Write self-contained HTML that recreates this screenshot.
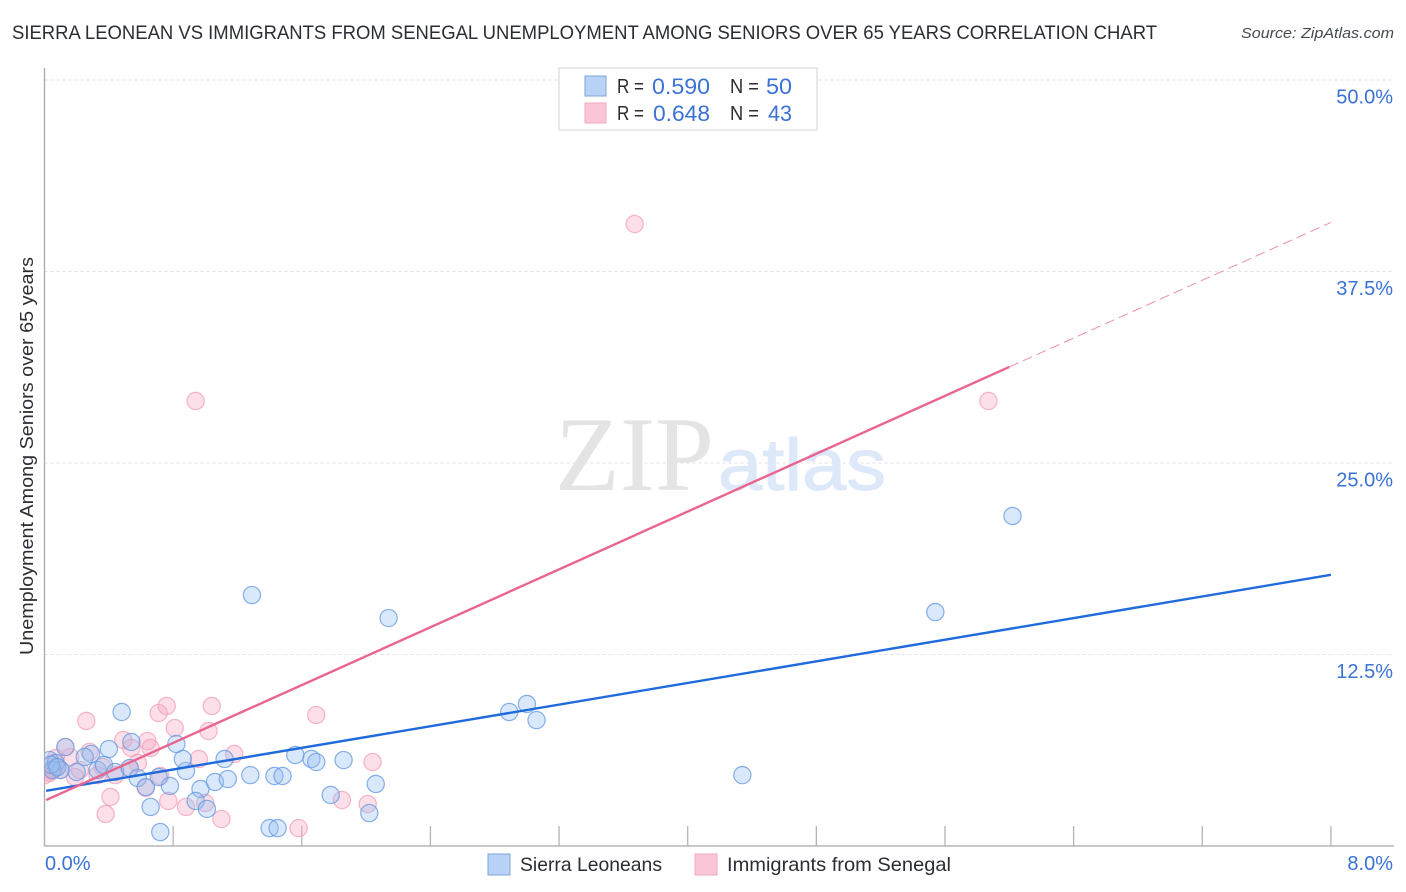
<!DOCTYPE html>
<html>
<head>
<meta charset="utf-8">
<title>Sierra Leonean vs Immigrants from Senegal Unemployment Correlation Chart</title>
<style>
html,body{margin:0;padding:0;background:#fff;}
body{width:1406px;height:892px;overflow:hidden;font-family:"Liberation Sans",sans-serif;}
svg{display:block;}
text{font-family:"Liberation Sans",sans-serif;}
</style>
</head>
<body>
<svg id="chart" xmlns="http://www.w3.org/2000/svg" width="1406" height="892" viewBox="0 0 1406 892">
  <defs>
    <clipPath id="plot-clip"><rect x="44.5" y="60" width="1350" height="786"></rect></clipPath>
  </defs>
  <text x="12" y="39" font-size="19" fill="#2a2d33" textLength="1145" lengthAdjust="spacingAndGlyphs">SIERRA LEONEAN VS IMMIGRANTS FROM SENEGAL UNEMPLOYMENT AMONG SENIORS OVER 65 YEARS CORRELATION CHART</text>
  <text x="1241" y="38" font-size="15" font-style="italic" fill="#444a52" textLength="153" lengthAdjust="spacingAndGlyphs">Source: ZipAtlas.com</text>

  <g id="grid-layer"></g>

  <g>
    <text x="555" y="490" font-size="106" fill="#e4e4e4" style="font-family:'Liberation Serif',serif" textLength="159" lengthAdjust="spacingAndGlyphs">ZIP</text>
    <text x="718" y="490" font-size="73" fill="#dde8f8" stroke="#dde8f8" stroke-width="1" textLength="168" lengthAdjust="spacingAndGlyphs">atlas</text>
  </g>

  <g id="axes-layer"></g>
  <g id="points-layer" clip-path="url(#plot-clip)"></g>
  <g id="trend-layer"></g>
  <g id="labels-layer"></g>

  <text transform="translate(33,456) rotate(-90)" font-size="18.5" fill="#2a2d33" text-anchor="middle" textLength="398" lengthAdjust="spacingAndGlyphs">Unemployment Among Seniors over 65 years</text>

  <g>
    <rect x="559" y="68" width="258" height="62" fill="#fff" stroke="#dcdcdc" stroke-width="1.2"></rect>
    <rect x="585" y="76" width="21" height="20" fill="#b9d3f6" stroke="#7fa6d8" stroke-width="1"></rect>
    <rect x="585" y="103" width="21" height="20" fill="#fac5d7" stroke="#f0aac2" stroke-width="1"></rect>
    <text x="617" y="93" font-size="20" fill="#2a2d33" textLength="27" lengthAdjust="spacingAndGlyphs">R =</text>
    <text x="652" y="94" font-size="22" fill="#3a72d6" textLength="58" lengthAdjust="spacingAndGlyphs">0.590</text>
    <text x="730" y="93" font-size="20" fill="#2a2d33" textLength="29" lengthAdjust="spacingAndGlyphs">N =</text>
    <text x="766" y="94" font-size="22" fill="#3a72d6" textLength="26" lengthAdjust="spacingAndGlyphs">50</text>
    <text x="617" y="120" font-size="20" fill="#2a2d33" textLength="27" lengthAdjust="spacingAndGlyphs">R =</text>
    <text x="653" y="121" font-size="22" fill="#3a72d6" textLength="57" lengthAdjust="spacingAndGlyphs">0.648</text>
    <text x="730" y="120" font-size="20" fill="#2a2d33" textLength="29" lengthAdjust="spacingAndGlyphs">N =</text>
    <text x="768" y="121" font-size="22" fill="#3a72d6" textLength="24" lengthAdjust="spacingAndGlyphs">43</text>
  </g>

  <g>
    <rect x="488" y="854" width="22" height="21" fill="#b9d3f6" stroke="#7fa6d8" stroke-width="1"></rect>
    <text x="520" y="871" font-size="19.5" fill="#2a2d33" textLength="142" lengthAdjust="spacingAndGlyphs">Sierra Leoneans</text>
    <rect x="695" y="854" width="22" height="21" fill="#fac5d7" stroke="#f0aac2" stroke-width="1"></rect>
    <text x="727" y="871" font-size="19.5" fill="#2a2d33" textLength="224" lengthAdjust="spacingAndGlyphs">Immigrants from Senegal</text>
  </g>
</svg>

<script>
var xTickValues = [0, 0.8, 1.6, 2.4, 3.2, 4, 4.8, 5.6, 6.4, 7.2, 8];
var xEndLabels = ["0.0%", "8.0%"];
var yTickValues = [12.5, 25, 37.5, 50];
var yTickLabels = ["12.5%", "25.0%", "37.5%", "50.0%"];

var blueX = [0.48,0.54,0.40,0.13,0.29,0.25,0.03,0.07,0.10,0.20,0.33,0.37,0.44,0.53,0.58,0.63,0.66,0.72,0.71,0.78,0.88,0.86,0.82,0.97,0.94,1.01,1.06,1.14,1.12,1.28,1.43,1.48,1.40,1.45,1.56,1.66,1.69,1.86,2.06,1.78,2.02,1.29,2.14,2.89,3.00,3.06,4.34,5.54,6.02,0.05,0.04,0.08];
var blueY = [8.75,6.79,6.33,6.46,6.01,5.81,5.61,5.42,4.96,4.83,4.96,5.29,4.83,5.09,4.44,3.85,2.55,0.91,4.50,3.92,4.90,5.68,6.66,3.72,2.94,2.42,4.18,4.37,5.68,4.63,4.57,4.57,1.17,1.17,5.94,5.68,5.48,5.61,4.05,3.33,2.15,16.38,14.88,8.75,9.27,8.22,4.63,15.27,21.54,4.96,5.30,5.15];

var pinkX = [0.26,0.28,0.16,0.13,0.07,0.03,0.19,0.36,0.44,0.49,0.54,0.64,0.66,0.58,0.53,0.41,0.38,0.63,0.72,0.77,0.88,1.00,1.10,0.71,0.76,1.04,0.81,1.02,0.96,1.18,1.69,2.04,1.85,2.01,1.58,0.94,3.67,5.87,0.10,0.22,0.07,0.00,0.33,0.05,0.06,0.04];
var pinkY = [8.16,6.14,5.81,6.46,5.16,4.77,4.50,5.16,4.63,6.92,6.40,6.85,6.40,5.42,5.09,3.20,2.09,3.79,4.57,2.94,2.55,2.81,1.76,8.68,9.14,9.14,7.70,7.51,5.68,6.01,8.55,5.48,3.00,2.74,1.17,29.05,40.60,29.05,4.96,4.96,5.74,4.63,4.63,5.40,5.05,4.90];

var blueTrendX = [0.01, 8];
var blueTrendY = [3.6, 17.7];
var pinkTrendX = [0.01, 6];
var pinkTrendY = [3.0, 31.27];
var pinkDashX = [6, 8];
var pinkDashY = [31.27, 40.7];

var SVG_NS = "http://www.w3.org/2000/svg";
function xScale(v){ return 44.5 + v * 160.8; }
function yScale(v){ return 846 - v * 15.32; }
function make(tag, attrs, parent){
  var el = document.createElementNS(SVG_NS, tag);
  for (var k in attrs) { el.setAttribute(k, attrs[k]); }
  parent.appendChild(el);
  return el;
}

var gridLayer = document.getElementById("grid-layer");
var axesLayer = document.getElementById("axes-layer");
var pointsLayer = document.getElementById("points-layer");
var trendLayer = document.getElementById("trend-layer");
var labelsLayer = document.getElementById("labels-layer");

yTickValues.forEach(function(v, i){
  var g = make("line", {x1: 44.5, x2: 1393, y1: yScale(v), y2: yScale(v), stroke: "#e0e0e0", "stroke-width": 1, "stroke-dasharray": "3 3"}, gridLayer);
  
  
  var t = make("text", {x: 1393, y: yScale(v) + 23.5, "font-size": 20, fill: "#3a72d6", "text-anchor": "end"}, labelsLayer);
  
  
  t.textContent = yTickLabels[i];
});

var yAxisLine = make("line", {x1: 44.5, x2: 44.5, y1: 68, y2: 846, stroke: "#a8a8a8", "stroke-width": 1.3}, axesLayer);


var xAxisLine = make("line", {x1: 44, x2: 1394, y1: 846, y2: 846, stroke: "#a8a8a8", "stroke-width": 1.3}, axesLayer);



xTickValues.forEach(function(v){
  var tick = make("line", {x1: xScale(v), x2: xScale(v), y1: 826, y2: 846, stroke: "#b4b4b4", "stroke-width": 1.3}, axesLayer);
  
  
});

var xLabelLeft = make("text", {x: 45, y: 870, "font-size": 20, fill: "#3a72d6"}, labelsLayer);


xLabelLeft.textContent = xEndLabels[0];
var xLabelRight = make("text", {x: 1393, y: 870, "font-size": 20, fill: "#3a72d6", "text-anchor": "end"}, labelsLayer);


xLabelRight.textContent = xEndLabels[1];

pinkX.forEach(function(v, i){
  var c = make("circle", {cx: xScale(v), cy: yScale(pinkY[i]), r: 8.6, fill: "rgba(248,165,192,0.36)", stroke: "#f2a3bd", "stroke-width": 1.2, "stroke-opacity": 0.8}, pointsLayer);
  
  
});
blueX.forEach(function(v, i){
  var c = make("circle", {cx: xScale(v), cy: yScale(blueY[i]), r: 8.6, fill: "rgba(150,190,240,0.36)", stroke: "#6a9ce2", "stroke-width": 1.2, "stroke-opacity": 0.8}, pointsLayer);
  
  
});

var blueTrend = make("line", {x1: xScale(blueTrendX[0]), y1: yScale(blueTrendY[0]), x2: xScale(blueTrendX[1]), y2: yScale(blueTrendY[1]), stroke: "#1f6bdc", "stroke-width": 2.4}, trendLayer);


var pinkTrend = make("line", {x1: xScale(pinkTrendX[0]), y1: yScale(pinkTrendY[0]), x2: xScale(pinkTrendX[1]), y2: yScale(pinkTrendY[1]), stroke: "#e9658f", "stroke-width": 2.4}, trendLayer);


var pinkDash = make("line", {x1: xScale(pinkDashX[0]), y1: yScale(pinkDashY[0]), x2: xScale(pinkDashX[1]), y2: yScale(pinkDashY[1]), stroke: "#eb8fae", "stroke-width": 1, "stroke-dasharray": "10 5"}, trendLayer);


</script>
</body>
</html>
